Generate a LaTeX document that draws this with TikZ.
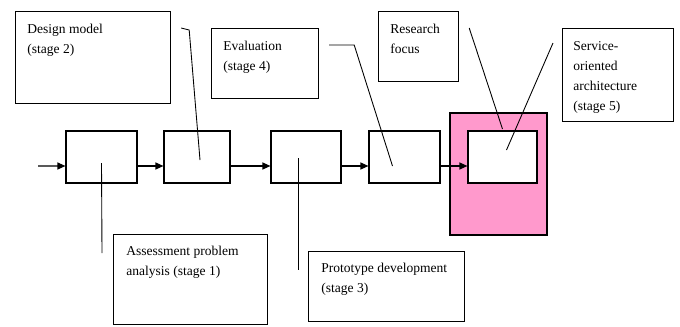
\documentclass[tikz,border=0pt]{standalone}
\usepackage{fontspec}
\setmainfont{Liberation Serif}
\usepackage{xcolor}
\usepackage{tikz}
\usetikzlibrary{arrows.meta, positioning, calc}
\definecolor{focuspink}{HTML}{FF99CC}

\begin{document}
\begin{tikzpicture}[
  x=0.02cm, y=-0.02cm,
  stagebox/.style={draw, line width=0.7pt, minimum width=#1, minimum height=1.04cm, inner sep=0pt, fill=white},
  stagebox/.default=1.4cm,
  note/.style={draw, line width=0.7pt, anchor=north west, inner sep=0pt},
  notetxt/.style={anchor=north west, inner sep=0pt, align=left, font=\fontsize{7.7}{11.4}\selectfont},
  arr/.style={-{Triangle[length=4.5pt, width=4pt]}, line width=0.6pt},
  lead/.style={line width=0.5pt},
]
  \useasboundingbox (0,0) rectangle (680,326);

  % research focus block
  \node[draw, line width=0.7pt, fill=focuspink, minimum width=1.94cm, minimum height=2.44cm, inner sep=0pt] (focus) at (498.5,174) {};

  % stages in a row
  \node[stagebox=1.42cm] (b1) at (101.5,157) {};
  \node[stagebox=1.32cm] (b2) at (197,157) {};
  \node[stagebox=1.40cm] (b3) at (306,157) {};
  \node[stagebox=1.42cm] (b4) at (404.5,157) {};
  \node[stagebox=1.38cm] (b5) at (502.5,157) {};

  \coordinate (start) at (38,166);
  \draw[arr] (start) -- ([yshift=-0.18cm]b1.west);
  \draw[arr] ([yshift=-0.18cm]b1.east) -- ([yshift=-0.18cm]b2.west);
  \draw[arr] ([yshift=-0.18cm]b2.east) -- ([yshift=-0.18cm]b3.west);
  \draw[arr] ([yshift=-0.18cm]b3.east) -- ([yshift=-0.18cm]b4.west);
  \draw[arr] ([yshift=-0.18cm]b4.east) -- ([yshift=-0.18cm]b5.west);

  % callouts
  \node[note, minimum width=3.10cm, minimum height=1.84cm] (design) at (15,11) {};
  \node[notetxt] (designtxt) at ([shift={(12,13)}]design.north west) {Design model\\(stage 2)};

  \node[note, minimum width=2.14cm, minimum height=1.40cm] (eval) at (211,28) {};
  \node[notetxt] (evaltxt) at ([shift={(12,13)}]eval.north west) {Evaluation\\(stage 4)};

  \node[note, minimum width=1.60cm, minimum height=1.40cm] (research) at (378,11) {};
  \node[notetxt] (researchtxt) at ([shift={(12,13)}]research.north west) {Research\\focus};

  \node[note, minimum width=2.22cm, minimum height=1.86cm] (soa) at (562,28) {};
  \node[notetxt] (soatxt) at ([shift={(11,13)}]soa.north west) {Service-\\oriented\\architecture\\(stage 5)};

  \node[note, minimum width=3.08cm, minimum height=1.80cm] (assess) at (113,234) {};
  \node[notetxt] (assesstxt) at ([shift={(13,12)}]assess.north west) {Assessment problem\\analysis (stage 1)};

  \node[note, minimum width=3.12cm, minimum height=1.40cm] (proto) at (308,251) {};
  \node[notetxt] (prototxt) at ([shift={(13,12)}]proto.north west) {Prototype development\\(stage 3)};

  % leader lines
  \draw[lead] ([shift={(10,17)}]design.north east) -- ++(8,2) -- ([shift={(3,3)}]b2.center);
  \draw[lead] ([shift={(10,17)}]eval.north east) -- ++(25,0) -- ([shift={(-12,9)}]b4.center);
  \draw[lead] ([shift={(10,17)}]research.north east) -- ([shift={(0,-28)}]b5.center);
  \draw[lead] ([shift={(-9,15)}]soa.north west) -- ([shift={(4,-7)}]b5.center);
  \draw[lead] ([shift={(0,6)}]b1.center) -- ([shift={(-11,19)}]assess.north west);
  \draw[lead] ([shift={(-8,1)}]b3.center) -- ([shift={(-10,19)}]proto.north west);
\end{tikzpicture}
\end{document}
